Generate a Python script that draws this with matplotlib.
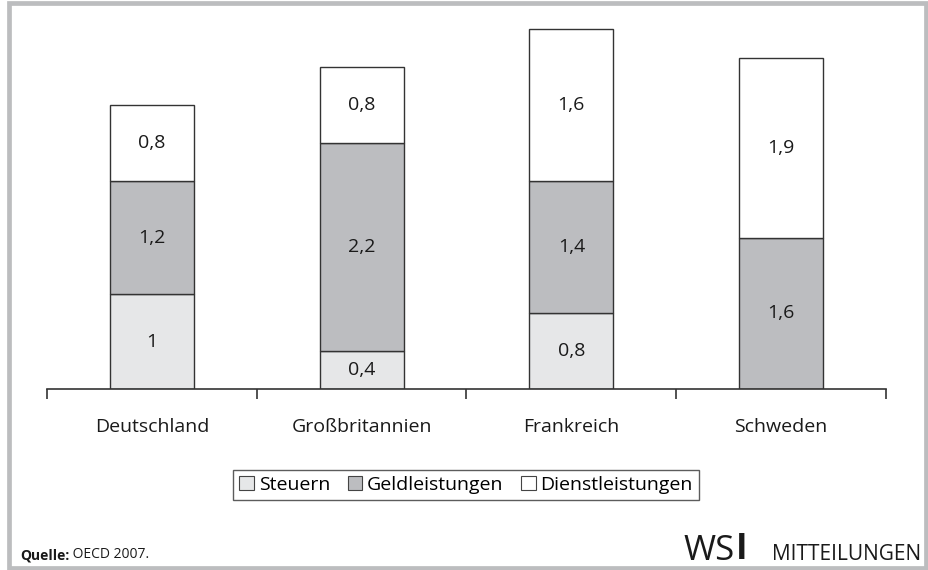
import matplotlib.pyplot as plt
import numpy as np
from matplotlib.patches import Rectangle

plt.rcParams['font.family'] = ['Open Sans', 'DejaVu Sans']

# data
laender = ['Deutschland', 'Großbritannien', 'Frankreich', 'Schweden']
steuern = [1.0, 0.4, 0.8, 0.0]
geld = [1.2, 2.2, 1.4, 1.6]
dienst = [0.8, 0.8, 1.6, 1.9]
serien = ['Steuern', 'Geldleistungen', 'Dienstleistungen']
farben = ['#e6e7e8', '#bcbdc0', '#ffffff']

W, H = 929, 570
fig = plt.figure(figsize=(W / 100, H / 100), dpi=100)

# grey frame
rahmen = '#bcbdbf'
fig.patches.append(Rectangle((9 / W, 2.5 / H), 917.5 / W, 565 / H, transform=fig.transFigure,
                             fill=False, edgecolor=rahmen, linewidth=3.4))

ax = fig.add_axes([47 / W, (H - 389) / H, (886 - 47) / W, (389 - 20) / H])
x = np.arange(len(laender)) + 0.5
bottom = np.zeros(len(laender))
for werte, farbe, name in zip([steuern, geld, dienst], farben, serien):
    werte = np.array(werte)
    ax.bar(x, werte, width=0.4, bottom=bottom, color=farbe, edgecolor='#333333',
           linewidth=1.0, label=name)
    for xi, b, v in zip(x, bottom, werte):
        if v > 0:
            ax.text(xi, b + v / 2, ('%g' % v).replace('.', ','), ha='center', va='center',
                    fontsize=14, color='#1a1a1a')
    bottom += werte

ax.set_xlim(0, 4)
ax.set_ylim(0, 3.9)
for s in ['top', 'right', 'left']:
    ax.spines[s].set_visible(False)
ax.spines['bottom'].set_color('#333333')
ax.spines['bottom'].set_linewidth(1.2)
ax.set_yticks([])
ax.set_xticks([0, 1, 2, 3, 4])
ax.set_xticklabels([])
ax.tick_params(axis='x', direction='out', length=7, width=1.2, color='#333333')
ax.set_xticks(x, minor=True)
ax.set_xticklabels(laender, minor=True, fontsize=14, color='#1a1a1a')
ax.tick_params(axis='x', which='minor', length=0, pad=21)

leg = fig.legend(loc='center', bbox_to_anchor=(466 / W, (H - 485) / H), ncol=3,
                 fontsize=14, frameon=True, fancybox=False, edgecolor='#333333',
                 handlelength=0.75, handleheight=0.75, handletextpad=0.25, columnspacing=0.9,
                 borderpad=0.3, borderaxespad=0)
leg.get_frame().set_linewidth(1.0)
for h in leg.legend_handles:
    h.set_edgecolor('#444444')
    h.set_linewidth(0.8)

# source line
q = fig.text(20 / W, (H - 559) / H, 'Quelle:', fontsize=10, fontweight='bold',
             color='#1a1a1a', va='baseline')
ax.annotate(' OECD 2007.', xy=(1, 0), xycoords=q, fontsize=10, color='#1a1a1a',
            va='bottom', ha='left', annotation_clip=False)

# WSI logo
ws = fig.text(683 / W, (H - 560) / H, 'WS', fontsize=25, color='#1a1a1a', va='baseline')
ax.annotate('I', xy=(1, 0), xycoords=ws, xytext=(1, 0), textcoords='offset points',
            fontsize=25, fontweight='bold', color='#1a1a1a', va='bottom', ha='left',
            annotation_clip=False)
fig.text(921 / W, (H - 560) / H, 'MITTEILUNGEN', fontsize=15, color='#1a1a1a',
         va='baseline', ha='right')

fig.savefig('out.png', dpi=100)
